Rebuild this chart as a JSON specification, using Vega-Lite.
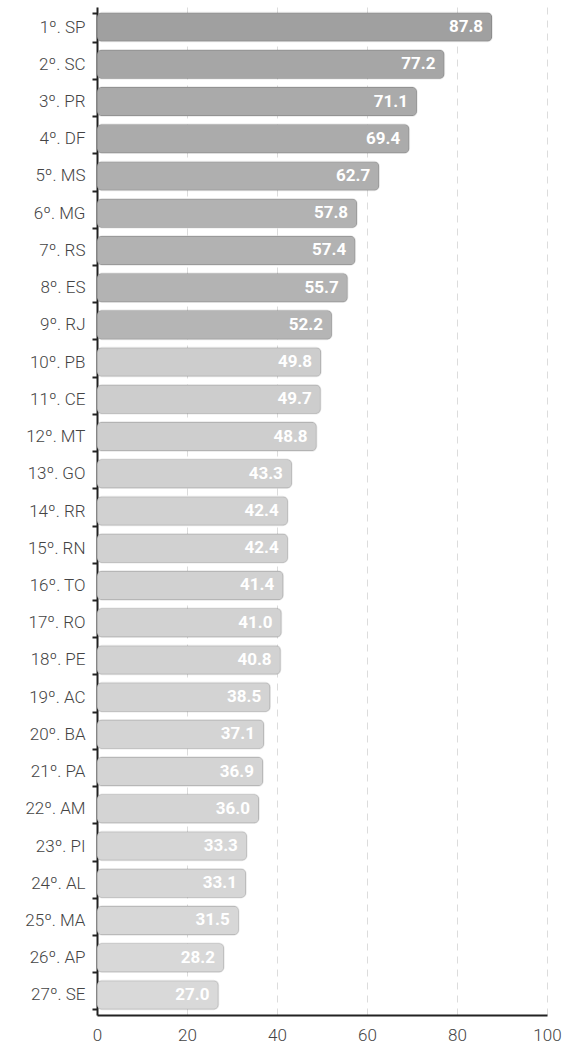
{
  "$schema": "https://vega.github.io/schema/vega-lite/v6.json",
  "width": 450,
  "height": 1008,
  "autosize": {"type": "none"},
  "padding": {"left": 97, "top": 7, "right": 15, "bottom": 31},
  "config": {"view": {"stroke": null}, "font": "Roboto"},
  "data": {
    "values": [
      {"rank": "1º. SP", "value": 87.8},
      {"rank": "2º. SC", "value": 77.2},
      {"rank": "3º. PR", "value": 71.1},
      {"rank": "4º. DF", "value": 69.4},
      {"rank": "5º. MS", "value": 62.7},
      {"rank": "6º. MG", "value": 57.8},
      {"rank": "7º. RS", "value": 57.4},
      {"rank": "8º. ES", "value": 55.7},
      {"rank": "9º. RJ", "value": 52.2},
      {"rank": "10º. PB", "value": 49.8},
      {"rank": "11º. CE", "value": 49.7},
      {"rank": "12º. MT", "value": 48.8},
      {"rank": "13º. GO", "value": 43.3},
      {"rank": "14º. RR", "value": 42.4},
      {"rank": "15º. RN", "value": 42.4},
      {"rank": "16º. TO", "value": 41.4},
      {"rank": "17º. RO", "value": 41.0},
      {"rank": "18º. PE", "value": 40.8},
      {"rank": "19º. AC", "value": 38.5},
      {"rank": "20º. BA", "value": 37.1},
      {"rank": "21º. PA", "value": 36.9},
      {"rank": "22º. AM", "value": 36.0},
      {"rank": "23º. PI", "value": 33.3},
      {"rank": "24º. AL", "value": 33.1},
      {"rank": "25º. MA", "value": 31.5},
      {"rank": "26º. AP", "value": 28.2},
      {"rank": "27º. SE", "value": 27.0}
    ]
  },
  "encoding": {
    "y": {
      "field": "rank",
      "type": "nominal",
      "sort": null,
      "scale": {"paddingInner": 0.22, "paddingOuter": 0.15},
      "axis": {
        "title": null,
        "tickBand": "extent",
        "tickSize": 5,
        "tickWidth": 2,
        "tickColor": "#222",
        "domainWidth": 2,
        "domainColor": "#222",
        "labelPadding": 7,
        "labelFontSize": 17,
        "labelFontWeight": 300,
        "labelColor": "#444",
        "grid": false
      }
    }
  },
  "layer": [
    {
      "mark": {"type": "bar", "cornerRadius": 5, "stroke": "#000", "strokeOpacity": 0.09, "strokeWidth": 1.5},
      "encoding": {
        "x": {
          "field": "value",
          "type": "quantitative",
          "scale": {"domain": [0, 100]},
          "axis": {
            "title": null,
            "values": [0, 20, 40, 60, 80, 100],
            "grid": true,
            "gridDash": [7, 6],
            "gridColor": "#dcdcdc",
            "gridWidth": 1,
            "ticks": false,
            "labelFlush": false,
            "labelPadding": 12,
            "domainWidth": 2,
            "domainColor": "#222",
            "labelFontSize": 17,
            "labelFontWeight": 300,
            "labelColor": "#444"
          }
        },
        "color": {
          "field": "value",
          "type": "quantitative",
          "scale": {"domain": [27, 49.8, 52.2, 88], "range": ["#d9d9d9", "#cdcdcd", "#b5b5b5", "#a0a0a0"]},
          "legend": null
        }
      }
    },
    {
      "mark": {"type": "text", "align": "right", "baseline": "middle", "dx": -9, "color": "white", "fontWeight": "bold", "fontSize": 17},
      "encoding": {
        "x": {"field": "value", "type": "quantitative"},
        "text": {"field": "value", "type": "quantitative", "format": ".1f"}
      }
    }
  ]
}
